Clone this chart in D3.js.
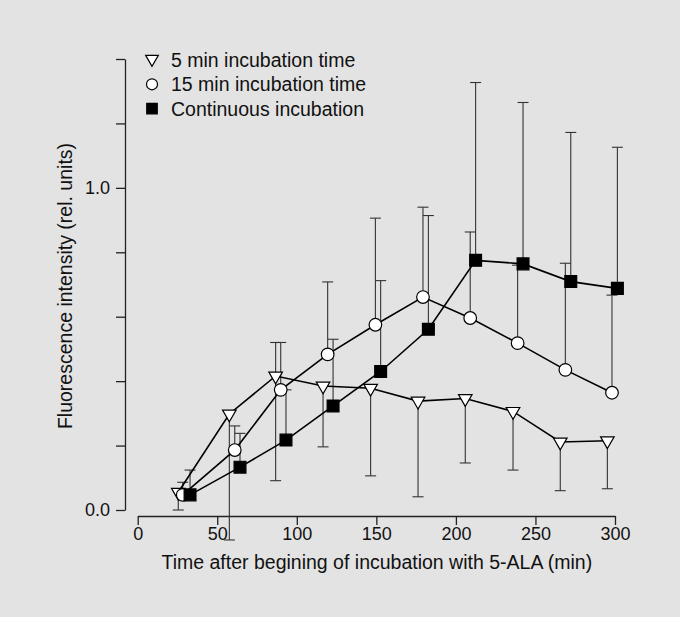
<!DOCTYPE html>
<html>
<head>
<meta charset="utf-8">
<script src="https://cdn.jsdelivr.net/npm/d3@7"></script>
<style>
  body { margin: 0; background: #e3e3e3; }
  svg { display: block; }
  text { font-family: "Liberation Sans", Arial, sans-serif; fill: #111; }
</style>
</head>
<body>
<svg width="680" height="617"></svg>
<script>
// Overall dimension of the canvas
const width = 680;
const height = 617;

// 5 min incubation time (triangles)
const times5 = [25.5, 57.6, 86.7, 116.5, 146.4, 176.2, 205.9, 235.9, 265.6, 295.2];
const mean5 = [0.055, 0.298, 0.416, 0.385, 0.378, 0.338, 0.346, 0.306, 0.211, 0.215];
const upper5 = [null, null, 0.52, null, null, null, null, null, null, null];
const lower5 = [0.0, -0.093, 0.091, 0.196, 0.106, 0.041, 0.146, 0.124, 0.06, 0.066];

// 15 min incubation time (circles)
const times15 = [28.3, 61, 89.9, 119.4, 149.4, 179.3, 209, 238.8, 268.8, 298.1];
const mean15 = [0.047, 0.186, 0.373, 0.483, 0.575, 0.661, 0.596, 0.518, 0.435, 0.364];
const upper15 = [0.086, 0.261, 0.52, 0.708, 0.906, 0.94, 0.863, 0.76, 0.766, 0.667];
const lower15 = [null, null, null, null, null, null, null, null, null, null];

// Continuous incubation (squares)
const timesC = [32.9, 64.3, 93.2, 122.8, 152.7, 182.7, 212.4, 242.2, 272.2, 301.5];
const meanC = [0.047, 0.133, 0.217, 0.323, 0.43, 0.561, 0.775, 0.764, 0.709, 0.688];
const upperC = [0.124, 0.238, 0.373, 0.53, 0.712, 0.914, 1.327, 1.265, 1.172, 1.126];
const lowerC = [null, null, null, null, null, null, null, null, null, null];

// Axis ticks and labels
const xTicks = [0, 50, 100, 150, 200, 250, 300];
const yTicks = [0, 0.2, 0.4, 0.6, 0.8, 1.0, 1.2, 1.4];
const yLabelled = [0, 1.0];
const legendLabels = ["5 min incubation time", "15 min incubation time", "Continuous incubation"];
const xTitle = "Time after begining of incubation with 5-ALA (min)";
const yTitle = "Fluorescence intensity (rel. units)";

const svg = d3.select("svg");

svg.append("rect")
    .attr("width", width)
    .attr("height", height)
    .attr("fill", "#e3e3e3");

// Scales
const x = d3.scaleLinear().domain([0, 300]).range([137.7, 615]);
const y = d3.scaleLinear().domain([0, 1.4]).range([510, 59]);

// Series table built from the arrays
const series = [
    {name: legendLabels[0], shape: "triangle", t: times5, m: mean5, up: upper5, lo: lower5},
    {name: legendLabels[1], shape: "circle", t: times15, m: mean15, up: upper15, lo: lower15},
    {name: legendLabels[2], shape: "square", t: timesC, m: meanC, up: upperC, lo: lowerC}
];

function symbolPath(shape) {
    if (shape === "triangle") return d3.symbol().type(d3.symbolTriangle).size(80)();
    if (shape === "circle") return d3.symbol().type(d3.symbolCircle).size(125)();
    return d3.symbol().type(d3.symbolSquare).size(140)();
}
function symbolFill(shape) { return shape === "square" ? "#000" : "#fff"; }
function symbolRotate(shape) { return shape === "triangle" ? " rotate(180)" : ""; }

// Y axis
const yAxis = svg.append("g")
    .attr("transform", "translate(125,0)")
    .call(d3.axisLeft(y)
        .tickValues(yTicks)
        .tickSize(9)
        .tickSizeOuter(0)
        .tickPadding(6)
        .tickFormat(d => yLabelled.includes(d) ? d3.format(".1f")(d) : ""));

// X axis, offset a little below the zero line
const xAxis = svg.append("g")
    .attr("transform", "translate(0,516)")
    .call(d3.axisBottom(x)
        .tickValues(xTicks)
        .tickSize(9)
        .tickSizeOuter(0)
        .tickPadding(2));

[yAxis, xAxis].forEach(a => {
    a.select(".domain").attr("stroke", "#222").attr("stroke-width", 1.3);
    a.selectAll(".tick line").attr("stroke", "#222").attr("stroke-width", 1.3);
    a.selectAll(".tick text")
        .style("font-family", "'Liberation Sans', Arial, sans-serif")
        .style("font-size", "18px")
        .attr("fill", "#111");
});

// Error bars, drawn first so the markers sit on top
series.forEach(s => {
    const g = svg.append("g");
    s.t.forEach((t, i) => {
        [s.up[i], s.lo[i]].forEach(v => {
            if (v === null) return;
            g.append("line")
                .attr("x1", x(t)).attr("x2", x(t))
                .attr("y1", y(s.m[i])).attr("y2", y(v))
                .attr("stroke", "#333").attr("stroke-width", 1.1);
            g.append("line")
                .attr("x1", x(t) - 5.5).attr("x2", x(t) + 5.5)
                .attr("y1", y(v)).attr("y2", y(v))
                .attr("stroke", "#333").attr("stroke-width", 1.1);
        });
    });
});

// Connecting lines
const line = d3.line().x(d => x(d[0])).y(d => y(d[1]));
series.forEach(s => {
    svg.append("path")
        .attr("d", line(d3.zip(s.t, s.m)))
        .attr("fill", "none")
        .attr("stroke", "#000")
        .attr("stroke-width", 1.6);
});

// Markers
series.forEach(s => {
    svg.append("g")
        .selectAll("path")
        .data(d3.zip(s.t, s.m))
        .join("path")
        .attr("d", symbolPath(s.shape))
        .attr("transform", d => `translate(${x(d[0])},${y(d[1])})${symbolRotate(s.shape)}`)
        .attr("fill", symbolFill(s.shape))
        .attr("stroke", "#000")
        .attr("stroke-width", 1.2);
});

// Legend
const legend = svg.append("g").attr("transform", "translate(152,60)");
const legendItems = legend.selectAll(".legend-item")
    .data(series)
    .join("g")
    .attr("transform", (d, i) => `translate(0,${i * 24.3})`);

legendItems.append("path")
    .attr("d", d => {
        if (d.shape === "triangle") return d3.symbol().type(d3.symbolTriangle).size(70)();
        if (d.shape === "circle") return d3.symbol().type(d3.symbolCircle).size(95)();
        return d3.symbol().type(d3.symbolSquare).size(110)();
    })
    .attr("transform", d => d.shape === "triangle" ? "translate(0,-1) rotate(180)" : "")
    .attr("fill", d => symbolFill(d.shape))
    .attr("stroke", "#000")
    .attr("stroke-width", 1.2);

legendItems.append("text")
    .attr("x", 19)
    .attr("y", 7)
    .style("font-size", "19.5px")
    .text(d => d.name);

// Axis titles
svg.append("text")
    .attr("x", (x(0) + x(300)) / 2 + 0.5)
    .attr("y", 569)
    .attr("text-anchor", "middle")
    .style("font-size", "19.5px")
    .text(xTitle);

svg.append("text")
    .attr("transform", "translate(72,286) rotate(-90)")
    .attr("text-anchor", "middle")
    .style("font-size", "19.5px")
    .text(yTitle);
</script>
</body>
</html>
